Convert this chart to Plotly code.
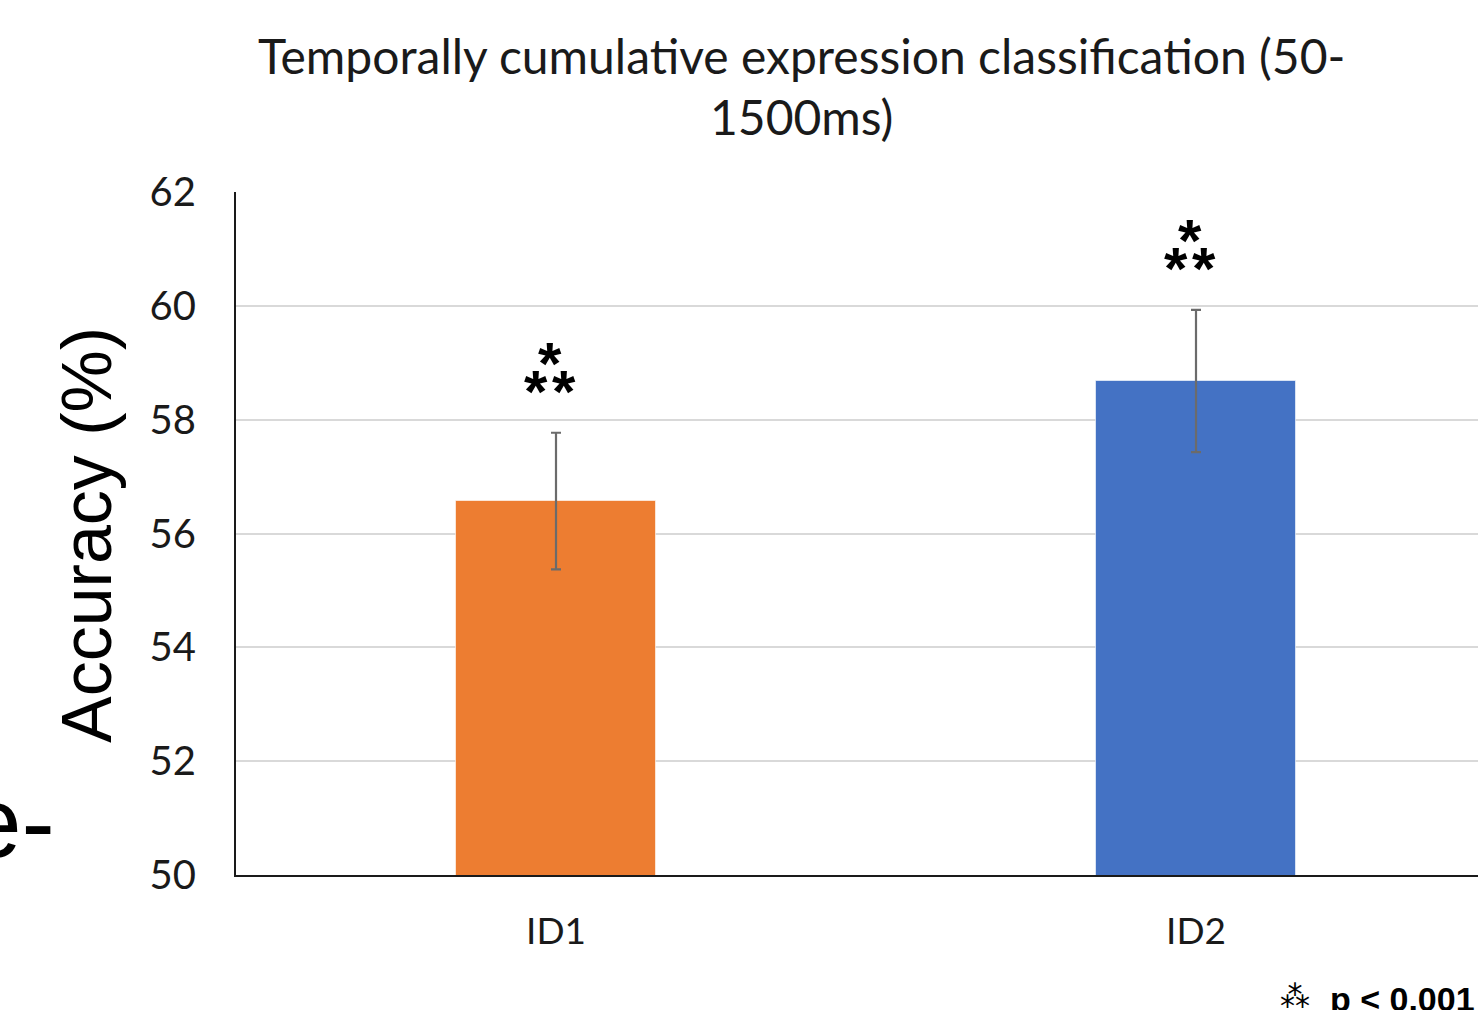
import plotly.graph_objects as go

categories = ["ID1", "ID2"]
accuracy = [56.57, 58.68]
errors = [1.2, 1.25]
colors = ["#ED7D31", "#4472C4"]
y_ticks = [50, 52, 54, 56, 58, 60, 62]
title_lines = ["Temporally cumulative expression classification (50-", "1500ms)"]

W, H = 1478, 1010
L, T, B = 236, 192, 135
PW, PH = W - L, H - T - B
CAT_PX = 640  # pixels per category unit

def px_x(p):
    return (p - L) / PW

def px_y(p):
    return (H - B - p) / PH

fig = go.Figure()
fig.add_trace(go.Bar(
    x=[0, 1], y=accuracy, base=0,
    marker=dict(color=colors, line=dict(width=1, color="rgba(255,255,255,0.6)")),
    width=0.311,
    error_y=dict(type="data", array=errors, visible=True, color="#6b6b6b", thickness=2.2, width=5),
    showlegend=False,
))

annotations = []
# title
for txt, yy in zip(title_lines, [55, 116]):
    annotations.append(dict(text=txt, x=px_x(801), y=px_y(yy), xref="paper", yref="paper",
                            xanchor="center", yanchor="middle", showarrow=False,
                            font=dict(family="Lato", size=48, color="#1a1a1a")))
# significance stars (triangle of three asterisks)
star_font = dict(family="Liberation Sans", size=60, color="black")
for i, (v, e) in enumerate(zip(accuracy, errors)):
    top = v + e
    for dx, dy in [(-6, 1.44), (-20, 0.95), (8, 0.95)]:
        annotations.append(dict(text="<b>*</b>", x=i + dx / CAT_PX, y=top + dy, xref="x", yref="y",
                                showarrow=False, font=star_font, yshift=-13))
# y axis title
annotations.append(dict(text="Accuracy (%)", x=px_x(87), y=px_y(535), xref="paper", yref="paper",
                        xanchor="center", yanchor="middle", textangle=-90, showarrow=False,
                        font=dict(family="Liberation Sans", size=70, color="black")))
# cut-off fragment
annotations.append(dict(text="e-", x=px_x(57), y=px_y(880), xref="paper", yref="paper",
                        xanchor="right", yanchor="bottom", showarrow=False,
                        font=dict(family="Liberation Sans", size=100, color="black")))
# legend note
annotations.append(dict(text="⁂", x=px_x(1312), y=px_y(1016), xref="paper", yref="paper",
                        xanchor="right", yanchor="bottom", showarrow=False,
                        font=dict(family="DejaVu Sans", size=30, color="black")))
annotations.append(dict(text="<b>p < 0.001</b>", x=px_x(1477), y=px_y(1020), xref="paper", yref="paper",
                        xanchor="right", yanchor="bottom", showarrow=False,
                        font=dict(family="Liberation Sans", size=34, color="black")))

fig.update_layout(
    width=W, height=H,
    margin=dict(l=L, r=0, t=T, b=B, pad=0),
    paper_bgcolor="white", plot_bgcolor="white",
    annotations=annotations,
    bargap=0,
)
fig.update_xaxes(
    range=[-0.5, (W - L) / CAT_PX - 0.5],
    tickvals=[0, 1], ticktext=categories,
    showgrid=False, showline=True, linecolor="#1a1a1a", linewidth=2,
    ticks="", ticklabelstandoff=23,
    tickfont=dict(family="Lato", size=37, color="#1a1a1a"),
    zeroline=False,
)
fig.update_yaxes(
    range=[50, 62], tickvals=y_ticks,
    showgrid=True, gridcolor="#d9d9d9", gridwidth=2,
    showline=True, linecolor="#1a1a1a", linewidth=2,
    ticks="", ticklabelstandoff=30,
    tickfont=dict(family="Lato", size=40, color="#1a1a1a"),
    zeroline=False,
)

fig.write_html("out.html", config={"displayModeBar": False},
               post_script="document.body.style.margin='0';document.body.style.overflow='hidden';")
